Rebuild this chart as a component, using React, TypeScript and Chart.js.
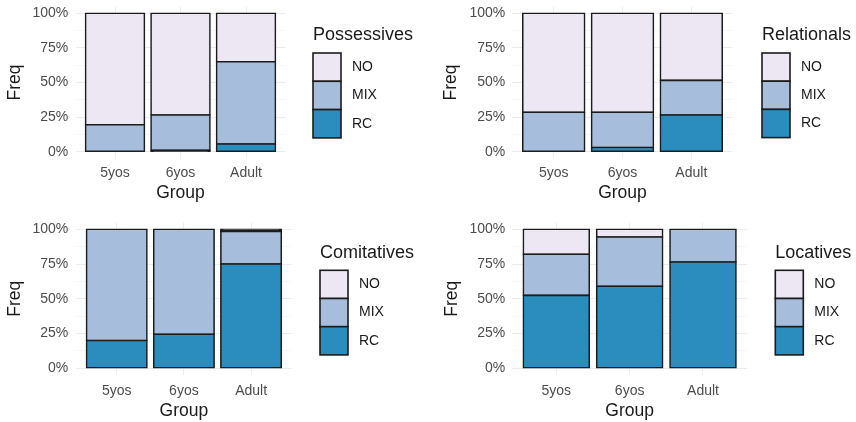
import React, { useEffect, useRef } from 'react';
import { Chart, registerables } from 'chart.js';

Chart.register(...registerables);

// ---- data ----
const GROUPS = ['5yos', '6yos', 'Adult'];
const RESPONSES = ['RC', 'MIX', 'NO'];
const RESPONSE_COLORS = ['#2B8CBE', '#A6BDDB', '#ECE7F2'];
const Y_MAJOR_TICKS = [0, 25, 50, 75, 100];
const Y_MINOR_TICKS = [12.5, 37.5, 62.5, 87.5];

const POSSESSIVES_RC = [0, 1, 5.5];
const POSSESSIVES_MIX = [19.5, 25.5, 59.5];
const POSSESSIVES_NO = [80.5, 73.5, 35];

const RELATIONALS_RC = [0, 3, 26.5];
const RELATIONALS_MIX = [28.5, 25.5, 25];
const RELATIONALS_NO = [71.5, 71.5, 48.5];

const COMITATIVES_RC = [20, 24.5, 75];
const COMITATIVES_MIX = [80, 75.5, 23.5];
const COMITATIVES_NO = [0, 0, 1.5];

const LOCATIVES_RC = [52.5, 59, 76.5];
const LOCATIVES_MIX = [29.5, 35.5, 23.5];
const LOCATIVES_NO = [18, 5.5, 0];

// ---- styling ----
const FONT = '"Liberation Sans", Arial, Helvetica, sans-serif';
const BORDER = '#1c1c1c';
const BORDER_W = 1.6;
const TICK_SIZE = 14;
const TITLE_SIZE = 17.5;
const LEGEND_TITLE_SIZE = 18;
const LEGEND_LABEL_SIZE = 14;
const KEY_W = 28;
// segments thinner than this (in %) are covered entirely by their outline
const SLIVER = 2;

type PanelLayout = {
  left: number; top: number; width: number; height: number;
  plotLeft: number; plotRight: number; plotTop: number; plotBottom: number;
  yLabelRight: number; yTitleX: number; xTickY: number; xTitleY: number;
  keyLeft: number; keyTop: number; keyH: number; titleY: number;
};

const LAYOUT_TL: PanelLayout = {
  left: 0, top: 0, width: 428, height: 211,
  plotLeft: 75.7, plotRight: 285.3, plotTop: 6.4, plotBottom: 158.6,
  yLabelRight: 68.3, yTitleX: 15, xTickY: 173.5, xTitleY: 193.5,
  keyLeft: 313, keyTop: 53, keyH: 28.3, titleY: 35.5,
};
const LAYOUT_TR: PanelLayout = {
  left: 428, top: 0, width: 428, height: 211,
  plotLeft: 84.4, plotRight: 304.6, plotTop: 6.4, plotBottom: 158.6,
  yLabelRight: 77.3, yTitleX: 23, xTickY: 173.5, xTitleY: 193.5,
  keyLeft: 334, keyTop: 53, keyH: 28.2, titleY: 35,
};
const LAYOUT_BL: PanelLayout = {
  left: 0, top: 211, width: 428, height: 211,
  plotLeft: 76.4, plotRight: 291.4, plotTop: 11.35, plotBottom: 164.25,
  yLabelRight: 68.3, yTitleX: 15, xTickY: 180, xTitleY: 200,
  keyLeft: 320, keyTop: 59.3, keyH: 28.2, titleY: 42.5,
};
const LAYOUT_BR: PanelLayout = {
  left: 428, top: 211, width: 428, height: 211,
  plotLeft: 84.3, plotRight: 319, plotTop: 11.35, plotBottom: 164.25,
  yLabelRight: 77.3, yTitleX: 24, xTickY: 180, xTitleY: 200,
  keyLeft: 347.3, keyTop: 59.3, keyH: 28.2, titleY: 42.5,
};

// Legend with stacked square keys and a left-aligned title, drawn to the right of the plot.
function keyLegend(title: string, lay: PanelLayout) {
  return {
    id: 'keyLegend',
    afterDraw(chart: any) {
      const { ctx } = chart;
      const items = chart.data.datasets.slice().reverse();
      ctx.save();
      ctx.textAlign = 'left';
      ctx.textBaseline = 'middle';
      ctx.fillStyle = '#1a1a1a';
      ctx.font = `${LEGEND_TITLE_SIZE}px ${FONT}`;
      ctx.fillText(title, lay.keyLeft, lay.titleY);
      items.forEach((ds: any, i: number) => {
        const y = lay.keyTop + i * lay.keyH;
        ctx.fillStyle = ds.keyColor;
        ctx.fillRect(lay.keyLeft, y, KEY_W, lay.keyH);
        ctx.strokeStyle = BORDER;
        ctx.lineWidth = BORDER_W;
        ctx.strokeRect(lay.keyLeft, y, KEY_W, lay.keyH);
        ctx.fillStyle = '#1a1a1a';
        ctx.font = `${LEGEND_LABEL_SIZE}px ${FONT}`;
        ctx.fillText(ds.label, lay.keyLeft + KEY_W + 11, y + lay.keyH / 2);
      });
      ctx.restore();
    },
  };
}

function Panel({ title, rc, mix, no, lay }: { title: string; rc: number[]; mix: number[]; no: number[]; lay: PanelLayout }) {
  const ref = useRef<HTMLCanvasElement | null>(null);

  useEffect(() => {
    if (!ref.current) return;
    const series = [rc, mix, no];
    const tickLH = TICK_SIZE * 1.2;
    const titleLH = TITLE_SIZE * 1.2;

    const chart = new Chart(ref.current, {
      type: 'bar',
      data: {
        datasets: RESPONSES.map((name, k) => ({
          label: name,
          keyColor: RESPONSE_COLORS[k],
          data: series[k].map((v, i) => ({ x: i, y: v === 0 ? null : v })),
          backgroundColor: (c: any) => {
            const v = series[k][c.dataIndex];
            return v !== undefined && v < SLIVER ? BORDER : RESPONSE_COLORS[k];
          },
          borderColor: BORDER,
          borderWidth: BORDER_W,
          borderSkipped: false,
          inflateAmount: BORDER_W / 2,
          categoryPercentage: 1,
          barPercentage: 0.9,
        })),
      },
      options: {
        responsive: false,
        animation: false,
        devicePixelRatio: 1,
        layout: {
          padding: { left: 0, top: lay.plotTop, right: lay.width - lay.plotRight, bottom: 0 },
        },
        plugins: {
          legend: { display: false },
          tooltip: { enabled: false },
        },
        scales: {
          x: {
            type: 'linear',
            stacked: true,
            min: -0.6,
            max: 2.6,
            offset: false,
            afterBuildTicks: (s: any) => {
              s.ticks = GROUPS.map((_, i) => ({ value: i }));
            },
            afterFit: (s: any) => {
              s.height = lay.height - lay.plotBottom;
              s.paddingLeft = 0;
              s.paddingRight = 0;
            },
            grid: { offset: false, drawTicks: false, color: '#EEEEEE', lineWidth: 1 },
            border: { display: false },
            ticks: {
              autoSkip: false,
              maxRotation: 0,
              padding: lay.xTickY - lay.plotBottom - tickLH / 2,
              color: '#4D4D4D',
              font: { family: FONT, size: TICK_SIZE },
              callback: (v: any) => GROUPS[Math.round(Number(v))] ?? '',
            },
            title: {
              display: true,
              text: 'Group',
              color: '#1a1a1a',
              font: { family: FONT, size: TITLE_SIZE },
              padding: { top: 0, bottom: lay.height - lay.xTitleY - titleLH / 2 },
            },
          },
          y: {
            type: 'linear',
            stacked: true,
            min: -5,
            max: 105,
            afterBuildTicks: (s: any) => {
              s.ticks = [...Y_MAJOR_TICKS, ...Y_MINOR_TICKS]
                .sort((a, b) => a - b)
                .map((v) => ({ value: v }));
            },
            afterFit: (s: any) => {
              s.width = lay.plotLeft;
              s.paddingTop = 0;
              s.paddingBottom = 0;
            },
            grid: {
              drawTicks: false,
              color: (c: any) => (Y_MAJOR_TICKS.includes(c.tick?.value) ? '#EBEBEB' : '#F3F3F3'),
              lineWidth: (c: any) => (Y_MAJOR_TICKS.includes(c.tick?.value) ? 1 : 0.7),
            },
            border: { display: false },
            ticks: {
              autoSkip: false,
              padding: lay.plotLeft - lay.yLabelRight,
              color: '#4D4D4D',
              font: { family: FONT, size: TICK_SIZE },
              callback: (v: any) => (Y_MAJOR_TICKS.includes(Number(v)) ? `${v}%` : ''),
            },
            title: {
              display: true,
              text: 'Freq',
              color: '#1a1a1a',
              font: { family: FONT, size: TITLE_SIZE },
              padding: { top: lay.yTitleX - titleLH / 2, bottom: 0 },
            },
          },
        },
      } as any,
      plugins: [keyLegend(title, lay)],
    });

    return () => chart.destroy();
  }, [title, rc, mix, no, lay]);

  return (
    <canvas
      ref={ref}
      width={lay.width}
      height={lay.height}
      style={{ position: 'absolute', left: lay.left, top: lay.top, width: lay.width, height: lay.height }}
    />
  );
}

export default function App() {
  return (
    <div style={{ position: 'absolute', left: 0, top: 0, width: 856, height: 422, background: '#ffffff' }}>
      <Panel title="Possessives" rc={POSSESSIVES_RC} mix={POSSESSIVES_MIX} no={POSSESSIVES_NO} lay={LAYOUT_TL} />
      <Panel title="Relationals" rc={RELATIONALS_RC} mix={RELATIONALS_MIX} no={RELATIONALS_NO} lay={LAYOUT_TR} />
      <Panel title="Comitatives" rc={COMITATIVES_RC} mix={COMITATIVES_MIX} no={COMITATIVES_NO} lay={LAYOUT_BL} />
      <Panel title="Locatives" rc={LOCATIVES_RC} mix={LOCATIVES_MIX} no={LOCATIVES_NO} lay={LAYOUT_BR} />
    </div>
  );
}
